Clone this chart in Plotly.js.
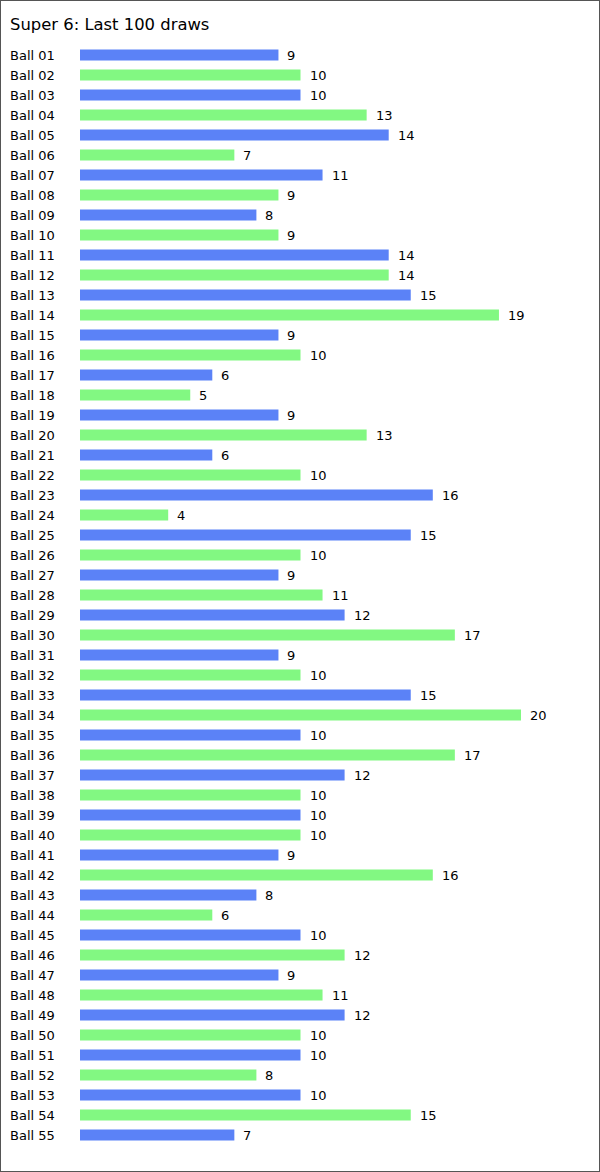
<!DOCTYPE html>
<html><head><meta charset="utf-8">
<script src="https://cdn.plot.ly/plotly-3.0.1.min.js"></script>
<style>
html,body{margin:0;padding:0;background:#fff;}
#wrap{width:598px;height:1170px;border:1px solid #555;}
#chart{width:598px;height:1170px;}
</style></head><body>
<div id="wrap"><div id="chart"></div></div>
<script>
var categories = ["Ball 01","Ball 02","Ball 03","Ball 04","Ball 05","Ball 06","Ball 07","Ball 08","Ball 09","Ball 10",
"Ball 11","Ball 12","Ball 13","Ball 14","Ball 15","Ball 16","Ball 17","Ball 18","Ball 19","Ball 20",
"Ball 21","Ball 22","Ball 23","Ball 24","Ball 25","Ball 26","Ball 27","Ball 28","Ball 29","Ball 30",
"Ball 31","Ball 32","Ball 33","Ball 34","Ball 35","Ball 36","Ball 37","Ball 38","Ball 39","Ball 40",
"Ball 41","Ball 42","Ball 43","Ball 44","Ball 45","Ball 46","Ball 47","Ball 48","Ball 49","Ball 50",
"Ball 51","Ball 52","Ball 53","Ball 54","Ball 55"];
var counts = [9,10,10,13,14,7,11,9,8,9,
14,14,15,19,9,10,6,5,9,13,
6,10,16,4,15,10,9,11,12,17,
9,10,15,20,10,17,12,10,10,10,
9,16,8,6,10,12,9,11,12,10,
10,8,10,15,7];
var title = "Super 6: Last 100 draws";
var colorsCycle = ["#5b82f7","#82f882"];

var font = "DejaVu Sans, Verdana, sans-serif";
var barColors = categories.map(function(c,i){return colorsCycle[i%2];});
var plotW = 598-79;
var scale = 22.05;

var annotations = [];
categories.forEach(function(c,i){
  annotations.push({x:(8-79)/plotW, xref:"paper", y:c, yref:"y", text:c, showarrow:false,
    xanchor:"left", yanchor:"middle", borderpad:0, font:{family:font,size:13,color:"#000"}});
  annotations.push({x:counts[i], xref:"x", y:c, yref:"y", text:String(counts[i]), showarrow:false,
    xanchor:"left", yanchor:"middle", xshift:8, borderpad:0, font:{family:font,size:13,color:"#000"}});
});

var trace = {type:"bar", orientation:"h", x:counts, y:categories,
  marker:{color:barColors, line:{width:0}}, hoverinfo:"none", width:0.55};

var layout = {
  width:598, height:1170,
  margin:{l:79, r:0, t:44, b:26, pad:0},
  paper_bgcolor:"#fff", plot_bgcolor:"#fff",
  showlegend:false,
  title:{text:title, x:9/598, xanchor:"left", xref:"container", y:1-23/1170, yref:"container", yanchor:"middle",
    pad:{t:0,b:0,l:0,r:0},
    font:{family:font, size:16.4, color:"#000"}},
  xaxis:{range:[0, plotW/scale], showgrid:false, zeroline:false, showticklabels:false, showline:false, ticks:""},
  yaxis:{type:"category", autorange:"reversed", showgrid:false, zeroline:false, showticklabels:false, showline:false, ticks:""},
  annotations:annotations
};
Plotly.newPlot("chart", [trace], layout, {staticPlot:true, displayModeBar:false});
</script></body></html>
